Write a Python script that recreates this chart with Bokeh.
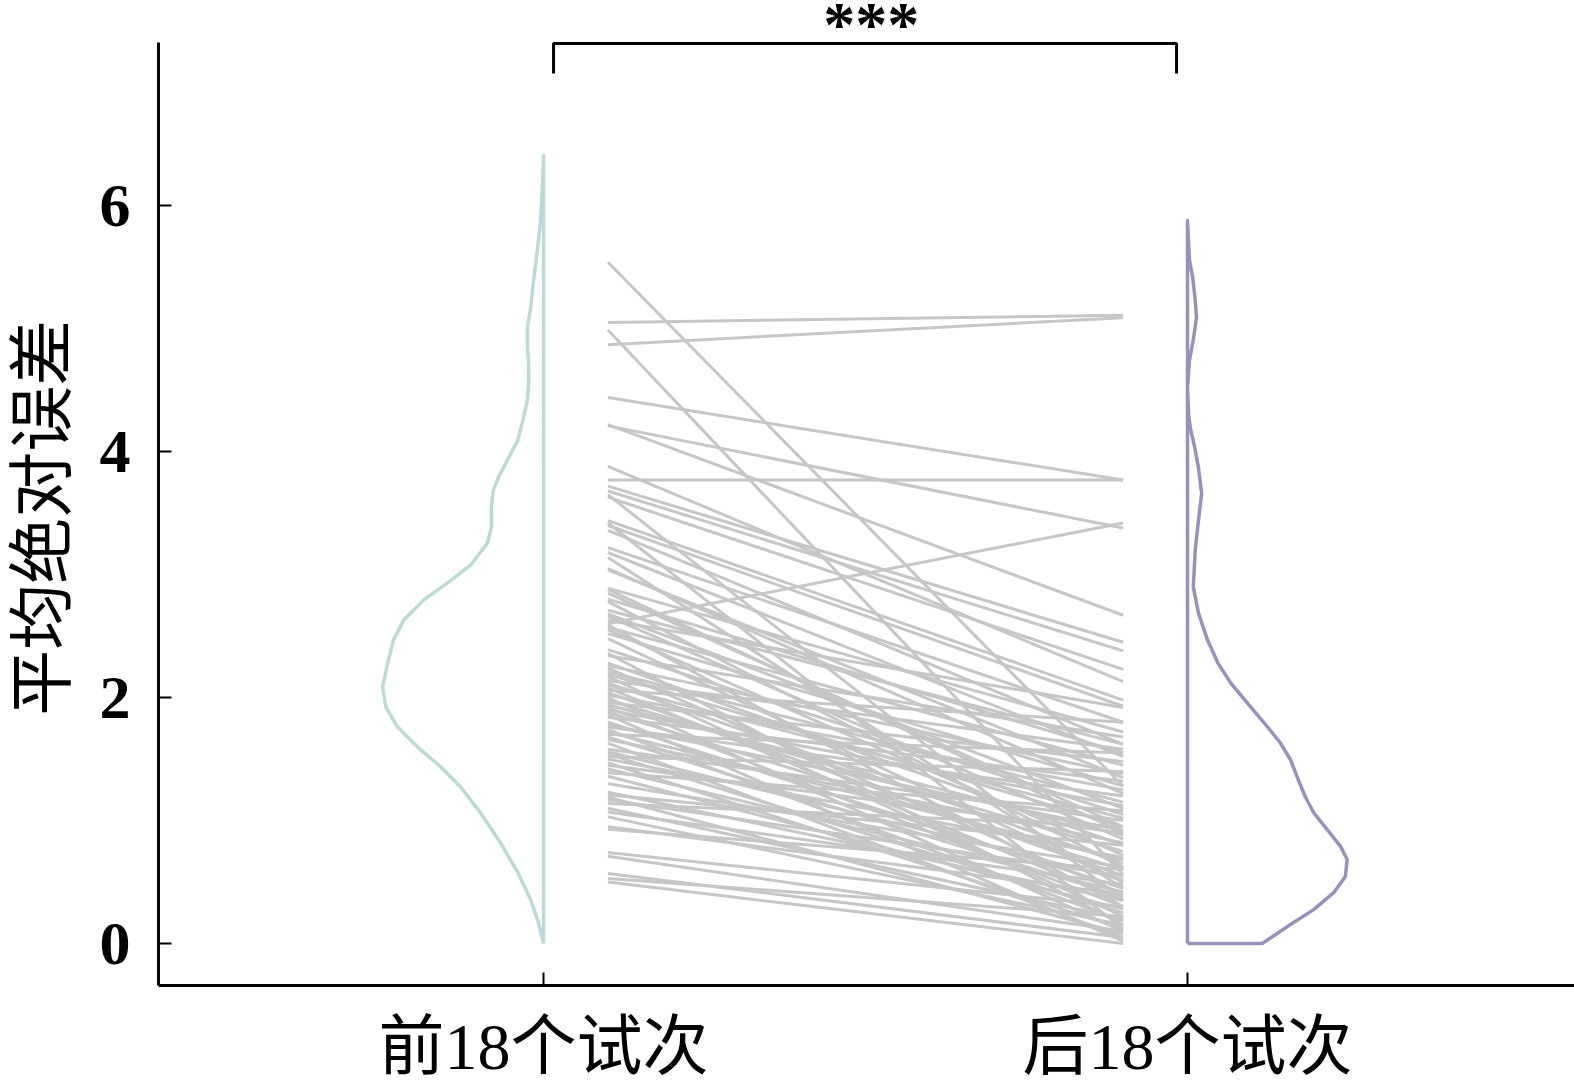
from bokeh.plotting import figure
from bokeh.models import FixedTicker, Range1d
from bokeh.core.properties import value
from bokeh.embed import file_html
from bokeh.resources import INLINE

# group labels on the x axis
categories = ["前18个试次", "后18个试次"]
y_ticks = [0, 2, 4, 6]
y_title = "平均绝对误差"
sig_text = "***"

# per-participant mean absolute error, first vs last 18 trials (paired)
first18 = [5.54, 5.05, 4.99, 4.87, 4.44, 4.22, 4.21, 3.88, 3.77, 3.72,
           3.68, 3.65, 3.63, 3.44, 3.42, 3.40, 3.36, 3.22, 3.18, 3.14,
           3.05, 3.04, 2.89, 2.88, 2.85, 2.80, 2.78, 2.71, 2.68, 2.66,
           2.63, 2.60, 2.59, 2.57, 2.55, 2.52, 2.48, 2.39, 2.36, 2.34,
           2.28, 2.26, 2.24, 2.21, 2.19, 2.17, 2.14, 2.12, 2.10, 2.08,
           2.06, 2.04, 2.02, 2.00, 1.98, 1.96, 1.94, 1.92, 1.90, 1.88,
           1.86, 1.84, 1.80, 1.78, 1.76, 1.74, 1.72, 1.70, 1.68, 1.66,
           1.63, 1.58, 1.56, 1.54, 1.52, 1.50, 1.47, 1.45, 1.42, 1.39,
           1.36, 1.30, 1.23, 1.21, 1.19, 1.17, 1.14, 1.10, 1.07, 1.03,
           0.95, 0.93, 0.74, 0.71, 0.57, 0.53, 0.50]
last18 = [1.28, 5.11, 0.56, 5.09, 3.77, 2.67, 3.38, 2.13, 3.77, 2.45,
          2.38, 0.35, 2.23, 1.98, 0.12, 1.93, 1.62, 1.80, 1.52, 0.45,
          1.22, 1.35, 1.72, 0.90, 0.95, 1.55, 0.62, 1.62, 1.10, 0.85,
          1.92, 3.42, 0.30, 1.45, 0.72, 1.28, 0.50, 1.05, 0.15, 1.68,
          0.80, 1.38, 0.40, 1.15, 0.95, 0.22, 1.58, 0.65, 1.02, 0.35,
          1.80, 0.55, 1.25, 0.10, 0.75, 1.48, 0.88, 0.30, 1.12, 0.60,
          0.02, 1.32, 0.45, 0.92, 1.20, 0.18, 0.68, 1.55, 0.38, 0.82,
          0.05, 1.00, 0.52, 0.25, 1.40, 0.70, 0.12, 0.90, 0.42, 1.08,
          0.28, 0.62, 0.35, 0.80, 0.08, 0.55, 0.95, 0.20, 0.48, 0.15,
          0.40, 0.60, 0.30, 0.10, 0.05, 0.22, 0.00]

# half-violin density outlines: y value and half-width
kde_y_first = [0.0, 0.171, 0.357, 0.577, 0.820, 1.064, 1.275, 1.438, 1.600,
               1.763, 1.925, 2.088, 2.283, 2.470, 2.632, 2.795, 2.933, 3.079,
               3.258, 3.387, 3.550, 3.688, 3.794, 3.932, 4.094, 4.281, 4.419,
               4.582, 4.687, 4.850, 5.012, 5.175, 5.370, 5.581, 5.719, 5.857,
               6.125, 6.409]
kde_w_first = [0.0, 0.008, 0.020, 0.040, 0.067, 0.098, 0.129, 0.160, 0.196,
               0.227, 0.245, 0.250, 0.242, 0.233, 0.217, 0.186, 0.149, 0.113,
               0.087, 0.081, 0.081, 0.078, 0.070, 0.056, 0.040, 0.031, 0.025,
               0.023, 0.023, 0.025, 0.025, 0.020, 0.016, 0.011, 0.008, 0.005,
               0.002, 0.0]
kde_y_last = [0.0, 0.0, 0.138, 0.276, 0.414, 0.544, 0.682, 0.788, 0.926,
              1.064, 1.194, 1.332, 1.495, 1.633, 1.763, 1.925, 2.120, 2.283,
              2.470, 2.689, 2.900, 3.20, 3.44, 3.66, 3.87, 4.04, 4.18, 4.28,
              4.52, 4.74, 4.91, 5.09, 5.23, 5.42, 5.56, 5.88]
kde_w_last = [0.0, 0.116, 0.155, 0.196, 0.227, 0.245, 0.248, 0.238, 0.217,
              0.196, 0.183, 0.172, 0.160, 0.144, 0.124, 0.098, 0.067, 0.047,
              0.031, 0.017, 0.009, 0.012, 0.017, 0.022, 0.017, 0.011, 0.005,
              0.002, 0.0, 0.003, 0.009, 0.014, 0.012, 0.008, 0.003, 0.0]

FONT = "'Liberation Serif', 'Noto Sans CJK SC', serif"
TEAL = "#bbdad5"
PURPLE = "#9791bb"
GREY = "#c6c6c6"

Y_LO, Y_AXIS_TOP, Y_HI = -0.341, 7.33, 7.669

p = figure(width=1574, height=1085, output_backend="svg", toolbar_location=None,
           x_range=Range1d(0.402, 2.601), y_range=Range1d(Y_LO, Y_HI),
           min_border_left=158, min_border_right=0, min_border_top=0,
           min_border_bottom=99)
p.outline_line_color = None
p.xgrid.visible = False
p.ygrid.visible = False
p.background_fill_color = "white"

# paired lines between the two blocks
xs = [[1.1, 1.9] for _ in first18]
ys = [[a, b] for a, b in zip(first18, last18)]
p.multi_line(xs, ys, line_color=GREY, line_width=3)

# left half-violin (first block), drawn to the left of x=1
lx = [1 - w for w in kde_w_first] + [1]
ly = list(kde_y_first) + [0]
p.line(lx, ly, line_color=TEAL, line_width=3.5, line_join="round")

# right half-violin (last block), drawn to the right of x=2
rx = [2 + w for w in kde_w_last] + [2]
ry = list(kde_y_last) + [0]
p.line(rx, ry, line_color=PURPLE, line_width=3.5, line_join="round")

# significance bracket and stars
p.line([1.0155, 1.0155, 1.983, 1.983], [7.075, 7.319, 7.319, 7.075],
       line_color="black", line_width=3)
p.text(x=[1.509], y=[7.47], text=[sig_text], text_font=value(FONT),
       text_font_size="64px", text_font_style="bold", text_align="center",
       text_baseline="alphabetic", text_color="black")

# axes
for ax in (p.xaxis, p.yaxis):
    ax.axis_line_width = 3
    ax.axis_line_color = "black"
    ax.major_tick_line_width = 2
    ax.major_tick_line_color = "black"
    ax.major_tick_in = 13
    ax.major_tick_out = 0
    ax.minor_tick_line_color = None
    ax.major_label_text_font = FONT
    ax.major_label_text_color = "black"

# the vertical spine stops at the top of the data area
p.yaxis.bounds = (Y_LO, Y_AXIS_TOP)

p.xaxis.ticker = FixedTicker(ticks=[1, 2])
p.xaxis.major_label_overrides = {1: categories[0], 2: categories[1]}
p.xaxis.major_label_text_font_size = "66px"
p.xaxis.major_label_standoff = 24

p.yaxis.ticker = FixedTicker(ticks=y_ticks)
p.yaxis.major_label_text_font_size = "62px"
p.yaxis.major_label_text_font_style = "bold"
p.yaxis.major_label_standoff = 28
# trailing no-break spaces keep the rotated title centred on the spine
p.yaxis.axis_label = y_title + "\u00a0\u00a0\u00a0"
p.yaxis.axis_label_text_font = FONT
p.yaxis.axis_label_text_font_size = "66px"
p.yaxis.axis_label_text_font_style = "normal"
p.yaxis.axis_label_text_color = "black"
p.yaxis.axis_label_standoff = 18

open("out.html", "w").write(file_html(p, INLINE))
